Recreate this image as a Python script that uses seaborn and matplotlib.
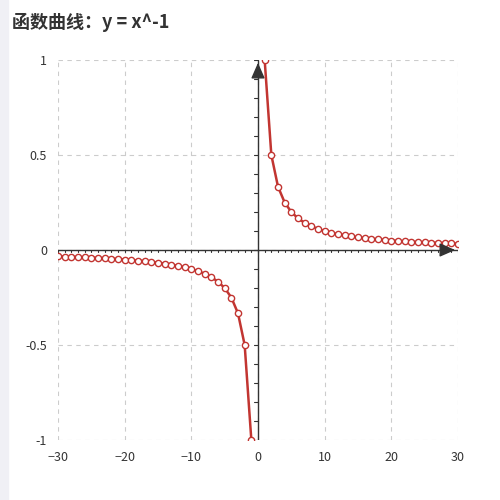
import numpy as np
import matplotlib.pyplot as plt
import seaborn as sns

sns.set_theme(style="white")
plt.rcParams['font.family'] = ['Noto Sans CJK SC', 'DejaVu Sans']

x_neg = [-30, -29, -28, -27, -26, -25, -24, -23, -22, -21, -20, -19, -18, -17, -16,
         -15, -14, -13, -12, -11, -10, -9, -8, -7, -6, -5, -4, -3, -2, -1]
x_pos = [1, 2, 3, 4, 5, 6, 7, 8, 9, 10, 11, 12, 13, 14, 15,
         16, 17, 18, 19, 20, 21, 22, 23, 24, 25, 26, 27, 28, 29, 30]
y_neg = [1.0 / v for v in x_neg]
y_pos = [1.0 / v for v in x_pos]
title = "函数曲线：y = x^-1"
red = "#c23531"

fig = plt.figure(figsize=(5, 5), dpi=100)
fig.patches.append(plt.Rectangle((0, 0), 0.016, 1, transform=fig.transFigure,
                                 color="#f0f0f5", zorder=-1))
ax = fig.add_axes([0.116, 0.12, 0.8, 0.76])

for xs, ys in [(x_neg, y_neg), (x_pos, y_pos)]:
    sns.lineplot(x=xs, y=ys, ax=ax, color=red, linewidth=1.8, marker="o",
                 markersize=4.5, markerfacecolor="white", markeredgecolor=red,
                 markeredgewidth=1, zorder=3)

ax.set_xlim(-30, 30)
ax.set_ylim(-1, 1)
ax.set_xticks([-30, -20, -10, 0, 10, 20, 30])
ax.set_yticks([-1, -0.5, 0, 0.5, 1])
ax.set_yticklabels(["-1", "-0.5", "0", "0.5", "1"])
ax.grid(True, linestyle=(0, (4, 4)), color="#cccccc", linewidth=0.8)
for s in ax.spines.values():
    s.set_visible(False)
ax.tick_params(length=0, labelsize=9, colors="#333333", pad=8)

# axes through origin with minor ticks
ax.axhline(0, color="#333333", linewidth=1, zorder=2)
ax.axvline(0, color="#333333", linewidth=1, zorder=2)
for t in range(-30, 31):
    ax.plot([t, t], [0, -0.012], color="#333333", linewidth=0.8, zorder=2)
for t in np.arange(-10, 11) / 10:
    ax.plot([0, -0.6], [t, t], color="#333333", linewidth=0.8, zorder=2)
ax.annotate("", xy=(30, 0), xytext=(28, 0),
            arrowprops=dict(arrowstyle="-|>,head_length=0.8,head_width=0.35",
                            color="#333333", lw=1), zorder=4)
ax.annotate("", xy=(0, 1), xytext=(0, 0.95),
            arrowprops=dict(arrowstyle="-|>,head_length=0.8,head_width=0.35",
                            color="#333333", lw=1), zorder=4)

fig.text(0.024, 0.975, title, fontsize=13, fontweight="bold", color="#333333",
         va="top", ha="left")

fig.savefig("out.png")
